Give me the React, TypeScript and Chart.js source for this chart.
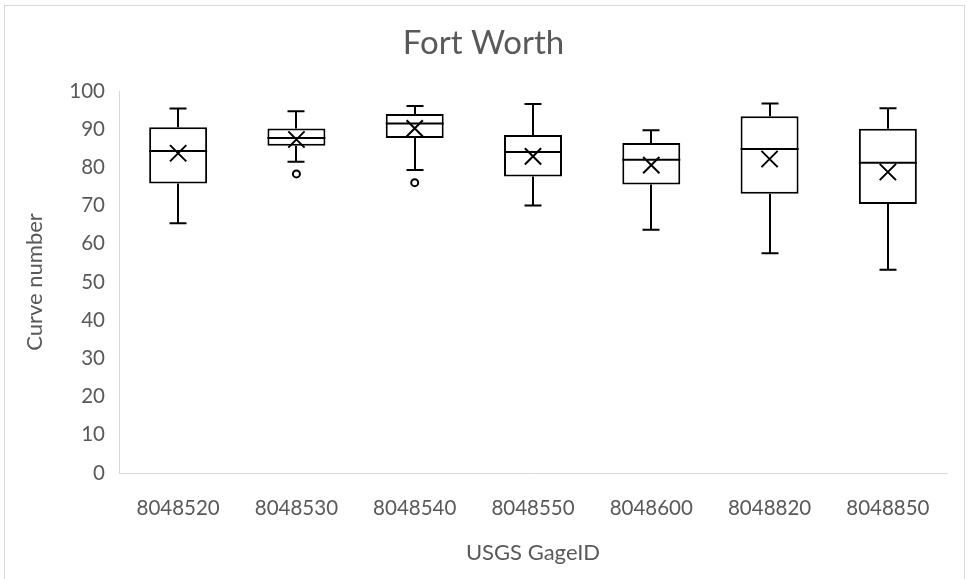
import React, { useEffect, useRef } from "react";
import { Chart, registerables } from "chart.js";

Chart.register(...registerables);

const categories = ["8048520", "8048530", "8048540", "8048550", "8048600", "8048820", "8048850"];
const minValues = [65.4, 81.5, 79.3, 70.0, 63.7, 57.5, 53.2];
const q1Values = [75.8, 85.7, 87.7, 77.6, 75.5, 73.1, 70.4];
const medianValues = [84.3, 87.7, 91.5, 84.0, 82.0, 84.8, 81.2];
const q3Values = [90.5, 90.2, 94.0, 88.5, 86.4, 93.4, 90.1];
const maxValues = [95.4, 94.7, 96.1, 96.6, 89.7, 96.7, 95.5];
const meanValues = [83.7, 87.3, 90.2, 82.9, 80.6, 82.2, 78.8];
const outlierCategories = ["8048530", "8048540"];
const outlierValues = [78.3, 76.0];
const yTicks = { min: 0, max: 100, step: 10 };

const FONT = "Lato, 'Open Sans', sans-serif";
const TEXT = "#595959";

const framePlugin = {
  id: "frame",
  beforeDraw(chart: any) {
    const { ctx, width, height } = chart;
    ctx.save();
    ctx.fillStyle = "#ffffff";
    ctx.fillRect(0, 0, width, height);
    ctx.strokeStyle = "#d9d9d9";
    ctx.lineWidth = 1;
    ctx.strokeRect(4.5, 5.5, 960, height + 20);
    ctx.restore();
  },
};

const whiskerPlugin = {
  id: "whiskers",
  afterDatasetDraw(chart: any, args: any) {
    if (args.index !== 0) return;
    const { ctx } = chart;
    const y = chart.scales.y;
    const meta = args.meta;
    ctx.save();
    ctx.strokeStyle = "#000000";
    ctx.lineWidth = 2;
    ctx.lineCap = "butt";
    meta.data.forEach((bar: any, i: number) => {
      const x = Math.round(bar.x);
      const half = bar.width / 2;
      const cap = 8.5;
      const pMin = y.getPixelForValue(minValues[i]);
      const pMax = y.getPixelForValue(maxValues[i]);
      const pQ1 = y.getPixelForValue(q1Values[i]);
      const pQ3 = y.getPixelForValue(q3Values[i]);
      const pMed = y.getPixelForValue(medianValues[i]);
      ctx.beginPath();
      ctx.moveTo(x, pQ3);
      ctx.lineTo(x, pMax);
      ctx.moveTo(x - cap, pMax);
      ctx.lineTo(x + cap, pMax);
      ctx.moveTo(x, pQ1);
      ctx.lineTo(x, pMin);
      ctx.moveTo(x - cap, pMin);
      ctx.lineTo(x + cap, pMin);
      ctx.moveTo(bar.x - half, pMed);
      ctx.lineTo(bar.x + half, pMed);
      ctx.stroke();
    });
    ctx.restore();
  },
};

export default function App() {
  const ref = useRef<HTMLCanvasElement | null>(null);

  useEffect(() => {
    document.body.style.margin = "0";
    const canvas = ref.current;
    if (!canvas) return;
    const chart = new Chart(canvas, {
      data: {
        labels: categories,
        datasets: [
          {
            type: "bar",
            label: "Box",
            data: q1Values.map((q, i) => [q, q3Values[i]]) as any,
            backgroundColor: "#ffffff",
            borderColor: "#000000",
            borderWidth: 2,
            borderSkipped: false,
            barPercentage: 0.49,
            categoryPercentage: 1,
            order: 2,
          } as any,
          {
            type: "line",
            label: "Mean",
            data: meanValues,
            showLine: false,
            pointStyle: "crossRot",
            pointRadius: 11.5,
            pointBorderWidth: 2,
            pointBorderColor: "#000000",
            pointBackgroundColor: "#000000",
            order: 1,
          } as any,
          {
            type: "line",
            label: "Outliers",
            data: outlierCategories.map((c, i) => ({ x: c, y: outlierValues[i] })),
            showLine: false,
            pointStyle: "circle",
            pointRadius: 3.5,
            pointBorderWidth: 2,
            pointBorderColor: "#000000",
            pointBackgroundColor: "#ffffff",
            order: 0,
          } as any,
        ],
      },
      options: {
        responsive: false,
        devicePixelRatio: 1,
        animation: false,
        events: [],
        layout: { padding: { left: 0, right: 0, top: 0, bottom: 0 } },
        plugins: {
          legend: { display: false },
          tooltip: { enabled: false },
          title: {
            display: true,
            text: "Fort Worth",
            color: TEXT,
            font: { family: FONT, size: 33, weight: "normal" },
            padding: { top: 24, bottom: 27.4 },
          },
        },
        scales: {
          x: {
            type: "category",
            offset: true,
            grid: { display: false, drawTicks: false },
            border: { display: true, color: "#d9d9d9", width: 1 },
            ticks: { color: TEXT, font: { family: FONT, size: 20.5 }, padding: 23, maxRotation: 0 },
            title: {
              display: true,
              text: "USGS GageID",
              color: TEXT,
              font: { family: FONT, size: 22 },
              padding: { top: 0, bottom: 13 },
            },
            afterFit(scale: any) {
              scale.height = 579 - 473;
            },
          },
          y: {
            min: yTicks.min,
            max: yTicks.max,
            grid: { display: false, drawTicks: false },
            border: { display: true, color: "#d9d9d9", width: 1 },
            ticks: { stepSize: yTicks.step, color: TEXT, font: { family: FONT, size: 20.5 }, padding: 14 },
            title: {
              display: true,
              text: "Curve number",
              color: TEXT,
              font: { family: FONT, size: 22 },
              padding: { top: 22, bottom: 0 },
            },
            afterFit(scale: any) {
              scale.width = 119;
            },
          },
          yRight: {
            type: "linear",
            position: "right",
            display: true,
            grid: { display: false, drawTicks: false },
            border: { display: false },
            ticks: { display: false },
            afterFit(scale: any) {
              scale.width = 20;
            },
          },
        },
      },
      plugins: [framePlugin, whiskerPlugin],
    } as any);
    return () => chart.destroy();
  }, []);

  return (
    <div style={{ width: 967, height: 579 }}>
      <canvas ref={ref} width={967} height={579} />
    </div>
  );
}
